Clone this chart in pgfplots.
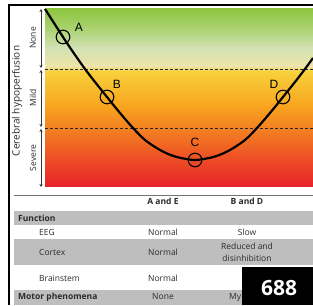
\documentclass[border=0pt]{standalone}
\usepackage{fontspec}
\setmainfont{Open Sans}
\newfontfamily\arialf{Liberation Sans}
\usepackage{pgfplots}
\pgfplotsset{compat=1.18}
\usetikzlibrary{arrows.meta}
\definecolor{c1}{HTML}{8DC63F}
\definecolor{c2}{HTML}{A8D16D}
\definecolor{c3}{HTML}{D3E2B4}
\definecolor{c4}{HTML}{EEE3A6}
\definecolor{c5}{HTML}{F8D03C}
\definecolor{c6}{HTML}{F8A61F}
\definecolor{c7}{HTML}{F16E23}
\definecolor{c8}{HTML}{E8202A}
\definecolor{band}{HTML}{BEBEBE}
\definecolor{txt}{HTML}{2A2A2A}
\begin{document}
\begin{tikzpicture}
\useasboundingbox (0,0) rectangle (313pt,305pt);
\begin{axis}[at={(0,0)},anchor=south west,scale only axis,width=313pt,height=305pt,
  xmin=0,xmax=313,ymin=0,ymax=305,hide axis,clip=false]
% gradient background
\shade[top color=c1,bottom color=c2] (45,277.8) rectangle (313,296);
\shade[top color=c2,bottom color=c3] (45,256.8) rectangle (313,278);
\shade[top color=c3,bottom color=c4] (45,238.8) rectangle (313,257);
\shade[top color=c4,bottom color=c5] (45,232.8) rectangle (313,239);
\shade[top color=c5,bottom color=c6] (45,199.8) rectangle (313,233);
\shade[top color=c6,bottom color=c7] (45,164.8) rectangle (313,200);
\shade[top color=c7,bottom color=c8] (45,118) rectangle (313,165);
% dashed thresholds
\addplot[black!85, line width=0.9pt, dash pattern=on 3pt off 2pt] coordinates {(45,236) (313,236)};
\addplot[black!85, line width=0.9pt, dash pattern=on 3pt off 2pt] coordinates {(45,177) (313,177)};
% curve
\addplot[black, line width=2.2pt, smooth] coordinates {
(45,296) (63,268) (73,253) (85,236) (95,223) (107,208) (120,192) (133,177)
(145,165) (160,155) (175,148.5) (195,145) (215,148.5) (230,155) (245,165)
(257,177) (270,192) (283,208) (295,223) (305,236) (313,247)};
% points
\addplot[only marks, mark=o, mark size=6.8pt, mark options={line width=1.1pt, black}]
 coordinates {(63,268) (107,208) (195,145) (283,208)};
\node[font=\arialf\fontsize{12}{13}\selectfont] at (79,278) {A};
\node[font=\arialf\fontsize{12}{13}\selectfont] at (117,221) {B};
\node[font=\arialf\fontsize{12}{13}\selectfont] at (195,163) {C};
\node[font=\arialf\fontsize{12}{13}\selectfont] at (274,221) {D};
% left scale
\draw[black!80, line width=0.6pt, {Stealth[length=3pt,width=3pt]}-{Stealth[length=3pt,width=3pt]}] (41,296) -- (41,237);
\draw[black!80, line width=0.6pt, {Stealth[length=3pt,width=3pt]}-{Stealth[length=3pt,width=3pt]}] (41,235) -- (41,178);
\draw[black!80, line width=0.6pt, {Stealth[length=3pt,width=3pt]}-{Stealth[length=3pt,width=3pt]}] (41,176) -- (41,118);
\node[rotate=90, text=txt, font=\fontsize{8.5}{9}\selectfont] at (33,267) {None};
\node[rotate=90, text=txt, font=\fontsize{8.5}{9}\selectfont] at (33,207) {Mild};
\node[rotate=90, text=txt, font=\fontsize{8.5}{9}\selectfont] at (33,147) {Severe};
\node[rotate=90, text=txt, font=\fontsize{10}{11}\selectfont] at (17,204) {Cerebral hypoperfusion};
% frame
\draw[black, line width=1.3pt] (9,0) -- (9,300) -- (313,300);
% table
\draw[black!55, line width=0.8pt] (14,110) -- (313,110);
\fill[band] (14,80) rectangle (313,94);
\fill[band] (14,40) rectangle (313,66);
\fill[band] (14,0) rectangle (313,15);
\begin{scope}[every node/.style={text=txt, font=\fontsize{8.5}{10}\selectfont, inner sep=0pt}]
\node[font=\bfseries\fontsize{8.5}{10}\selectfont] at (163,104) {A and E};
\node[font=\bfseries\fontsize{8.5}{10}\selectfont] at (247,104) {B and D};
\node[anchor=west, font=\bfseries\fontsize{8.5}{10}\selectfont] at (18,87) {Function};
\node[anchor=west] at (39,73) {EEG};
\node at (163,73) {Normal};
\node at (247,73) {Slow};
\node[anchor=west] at (39,53) {Cortex};
\node at (163,53) {Normal};
\node at (247,59) {Reduced and};
\node at (247,47) {disinhibition};
\node[anchor=west] at (39,27) {Brainstem};
\node at (163,27) {Normal};
\node[anchor=west, font=\bfseries\fontsize{8.5}{10}\selectfont] at (18,8) {Motor phenomena};
\node at (163,8) {None};
\node[anchor=west] at (229,8) {My};
\end{scope}
\fill[black] (242,0) rectangle (313,38);
\node[text=white, font=\bfseries\fontsize{21}{24}\selectfont] at (279,17) {688};
\end{axis}
\end{tikzpicture}
\end{document}
